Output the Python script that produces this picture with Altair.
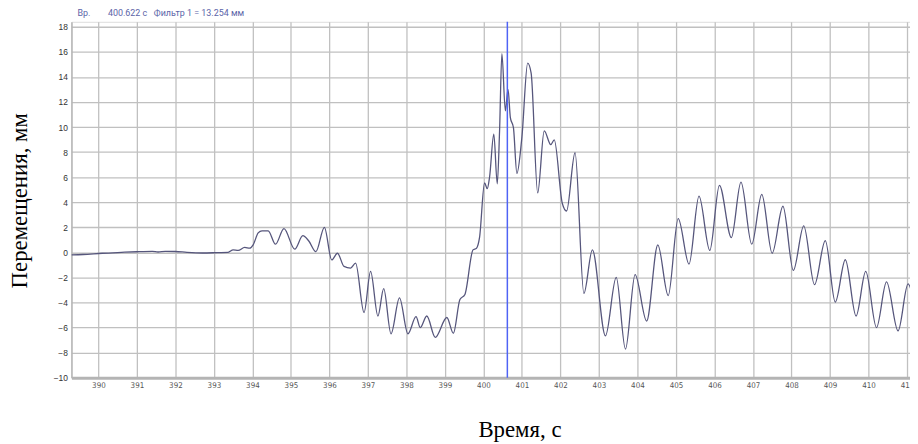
import altair as alt
import pandas as pd

# Time (s) and displacement (mm)
t = [389.30, 389.60, 390.10, 390.60, 391.00, 391.40, 391.55, 391.74, 392.00, 392.30,
     392.70, 393.10, 393.37, 393.50, 393.63, 393.80, 393.93, 394.02, 394.15, 394.25,
     394.41, 394.60, 394.82, 395.10, 395.31, 395.46, 395.65, 395.87, 396.06, 396.21,
     396.38, 396.55, 396.68, 396.90, 397.07, 397.26, 397.41, 397.60, 397.82, 398.04,
     398.25, 398.36, 398.53, 398.75, 399.05, 399.22, 399.39, 399.52, 399.73, 399.82,
     399.90, 400.03, 400.10, 400.16, 400.27, 400.36, 400.42, 400.48, 400.57, 400.64,
     400.70, 400.78, 400.87, 401.00, 401.15, 401.24, 401.41, 401.58, 401.75, 401.84,
     402.05, 402.16, 402.38, 402.61, 402.83, 403.17, 403.45, 403.69, 403.94, 404.24,
     404.53, 404.80, 405.06, 405.34, 405.60, 405.88, 406.13, 406.44, 406.69, 406.97,
     407.23, 407.50, 407.78, 408.05, 408.32, 408.60, 408.88, 409.14, 409.40, 409.68,
     409.93, 410.21, 410.47, 410.77, 411.03, 411.15]
disp = [-0.20, -0.17, -0.07, 0.00, 0.05, 0.08, 0.03, 0.08, 0.07, 0.00,
        -0.05, -0.02, 0.00, 0.20, 0.15, 0.40, 0.33, 0.60, 1.55, 1.72,
        1.72, 0.65, 1.90, 0.25, 1.33, 0.93, 0.06, 2.00, -0.60, -0.07,
        -1.12, -1.25, -0.86, -4.80, -1.52, -5.08, -2.90, -6.50, -3.63, -6.50,
        -5.13, -6.00, -5.08, -6.79, -5.20, -6.45, -3.76, -3.36, 0.20, 0.33,
        1.20, 5.55, 5.08, 6.00, 9.43, 5.47, 9.70, 15.85, 11.30, 13.00,
        10.75, 9.95, 6.30, 9.20, 15.10, 14.30, 4.74, 9.70, 8.60, 8.97,
        3.90, 3.30, 7.95, -3.28, 0.20, -6.66, -2.00, -7.72, -1.78, -5.48,
        0.60, -3.45, 2.70, -0.94, 4.48, 0.15, 5.35, 1.18, 5.60, 0.65,
        4.63, -0.07, 3.68, -1.44, 2.12, -2.58, 0.94, -3.97, -0.59, -5.08,
        -1.52, -6.00, -2.36, -6.27, -2.52, -3.50]

cursor_t = [400.622]
x_ticks = list(range(390, 412))
y_ticks = list(range(-10, 19, 2))

df = pd.DataFrame({"t": t, "y": disp})
cur = pd.DataFrame({"t": cursor_t})

xscale = alt.Scale(domain=[389.30, 411.08], nice=False, zero=False)
yscale = alt.Scale(domain=[-10, 18.4], nice=False, zero=False)

x_axis = alt.Axis(
    values=x_ticks, format="d", title="Время, с",
    titleFont="Liberation Serif", titleFontSize=23, titleFontWeight="normal",
    titleColor="#000000", titleX=452, titleY=59, titleAlign="center",
    titleBaseline="alphabetic",
    labelFont="DejaVu Sans Condensed, Liberation Sans", labelFontSize=8,
    labelColor="#555555",
    labelPadding=4, tickSize=0, domainColor="#b4b4b4", domainWidth=3,
    grid=True, gridColor="#c0c0c0", gridWidth=1.3, labelFlush=False,
)
y_axis = alt.Axis(
    values=y_ticks, title="Перемещения, мм",
    titleFont="Liberation Serif", titleFontSize=23, titleFontWeight="normal",
    titleColor="#000000", titleX=-52, titleY=180, titleAlign="center",
    titleBaseline="middle", titleAngle=-90,
    labelFont="Liberation Sans", labelFontSize=8.5, labelColor="#333333",
    labelPadding=4, tickSize=0, domainColor="#b4b4b4", domainWidth=1.5,
    grid=True, gridColor="#c0c0c0", gridWidth=1.3, labelFlush=False,
)

line = alt.Chart(df).mark_line(
    interpolate="monotone", color="#56567c", strokeWidth=1.3, clip=True
).encode(
    x=alt.X("t:Q", scale=xscale, axis=x_axis),
    y=alt.Y("y:Q", scale=yscale, axis=y_axis),
)

cursor = alt.Chart(cur).mark_rule(color="#4f63f5", strokeWidth=1.5).encode(
    x=alt.X("t:Q", scale=xscale)
)

header = "Вр." + "\u00a0" * 8 + "400.622 с" + "\u00a0" * 3 + "Фильтр 1 = 13.254 мм"

chart = alt.layer(line, cursor).properties(
    width=846, height=359,
    padding={"left": 64, "top": 12, "right": 0, "bottom": 65},
    autosize=alt.AutoSizeParams(type="none"),
    title=alt.TitleParams(
        text=header, anchor="start", fontSize=9, font="Roboto",
        color="#5b64a8", fontWeight="normal", offset=3, dx=6, frame="group",
    ),
).configure_view(stroke="#b4b4b4", strokeWidth=1.5).configure(background="white")

chart.save("out.html", embed_options={"renderer": "svg", "actions": False})
